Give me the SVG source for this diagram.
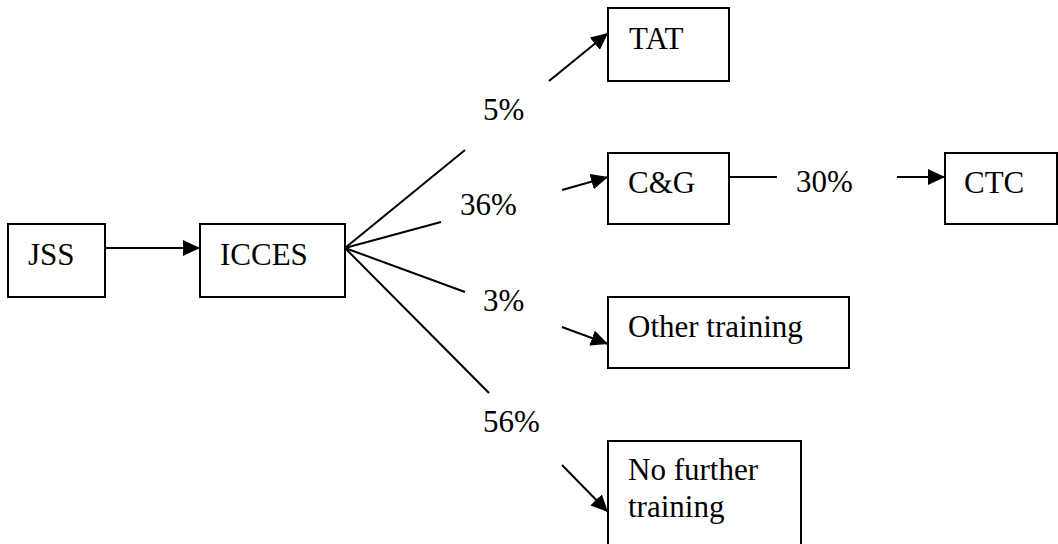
<svg xmlns="http://www.w3.org/2000/svg" width="1058" height="544" viewBox="0 0 1058 544">
  <style>
    .box { fill: #fff; stroke: #000; stroke-width: 2; }
    .lbl { font-family: "Liberation Serif", "DejaVu Serif", "Noto Serif", Times, serif; font-size: 31px; fill: #000; }
    .ln { stroke: #000; stroke-width: 2; fill: none; }
  </style>
  <defs>
    <marker id="arrow" markerUnits="userSpaceOnUse" markerWidth="17" markerHeight="16" refX="17" refY="8" orient="auto">
      <path d="M0,0 L17,8 L0,16 z" fill="#000"/>
    </marker>
  </defs>
  <rect width="1058" height="544" fill="#fff"/>

  <g id="connectors">
    <line class="ln" x1="105" y1="248" x2="200" y2="248" marker-end="url(#arrow)"/>
    <!-- fan-out from ICCES -->
    <line class="ln" x1="345" y1="248" x2="465" y2="150"/>
    <line class="ln" x1="345" y1="248" x2="441" y2="222"/>
    <line class="ln" x1="345" y1="248" x2="465" y2="292"/>
    <line class="ln" x1="345" y1="248" x2="489" y2="393"/>
    <!-- arrows into the destination boxes -->
    <line class="ln" x1="549" y1="81" x2="608" y2="33" marker-end="url(#arrow)"/>
    <line class="ln" x1="562" y1="190" x2="608" y2="177" marker-end="url(#arrow)"/>
    <line class="ln" x1="562" y1="327" x2="608" y2="344" marker-end="url(#arrow)"/>
    <line class="ln" x1="562" y1="465" x2="608" y2="512" marker-end="url(#arrow)"/>
    <!-- C&G to CTC -->
    <line class="ln" x1="729" y1="177" x2="777" y2="177"/>
    <line class="ln" x1="897" y1="177" x2="945" y2="177" marker-end="url(#arrow)"/>
    <!-- percentages -->
    <text class="lbl" x="483" y="120" font-family="Liberation Serif, serif">5%</text>
    <text class="lbl" x="460" y="215" font-family="Liberation Serif, serif">36%</text>
    <text class="lbl" x="483" y="311" font-family="Liberation Serif, serif">3%</text>
    <text class="lbl" x="483" y="432" font-family="Liberation Serif, serif">56%</text>
    <text class="lbl" x="796" y="192" font-family="Liberation Serif, serif">30%</text>
  </g>

  <g id="jss">
    <rect class="box" x="8" y="224" width="97" height="73"/>
    <text class="lbl" x="28" y="265">JSS</text>
  </g>
  <g id="icces">
    <rect class="box" x="200" y="224" width="145" height="73"/>
    <text class="lbl" x="220" y="265">ICCES</text>
  </g>
  <g id="tat">
    <rect class="box" x="608" y="8" width="121" height="73"/>
    <text class="lbl" x="629" y="49">TAT</text>
  </g>
  <g id="cg">
    <rect class="box" x="608" y="153" width="121" height="71"/>
    <text class="lbl" x="628" y="193">C&amp;G</text>
  </g>
  <g id="ctc">
    <rect class="box" x="945" y="153" width="112" height="71"/>
    <text class="lbl" x="964" y="193">CTC</text>
  </g>
  <g id="other-training">
    <rect class="box" x="608" y="297" width="241" height="71"/>
    <text class="lbl" x="628" y="337">Other training</text>
  </g>
  <g id="no-further-training">
    <rect class="box" x="608" y="441" width="193" height="110"/>
    <text class="lbl" x="628" y="480">No further</text>
    <text class="lbl" x="628" y="517">training</text>
  </g>
</svg>
